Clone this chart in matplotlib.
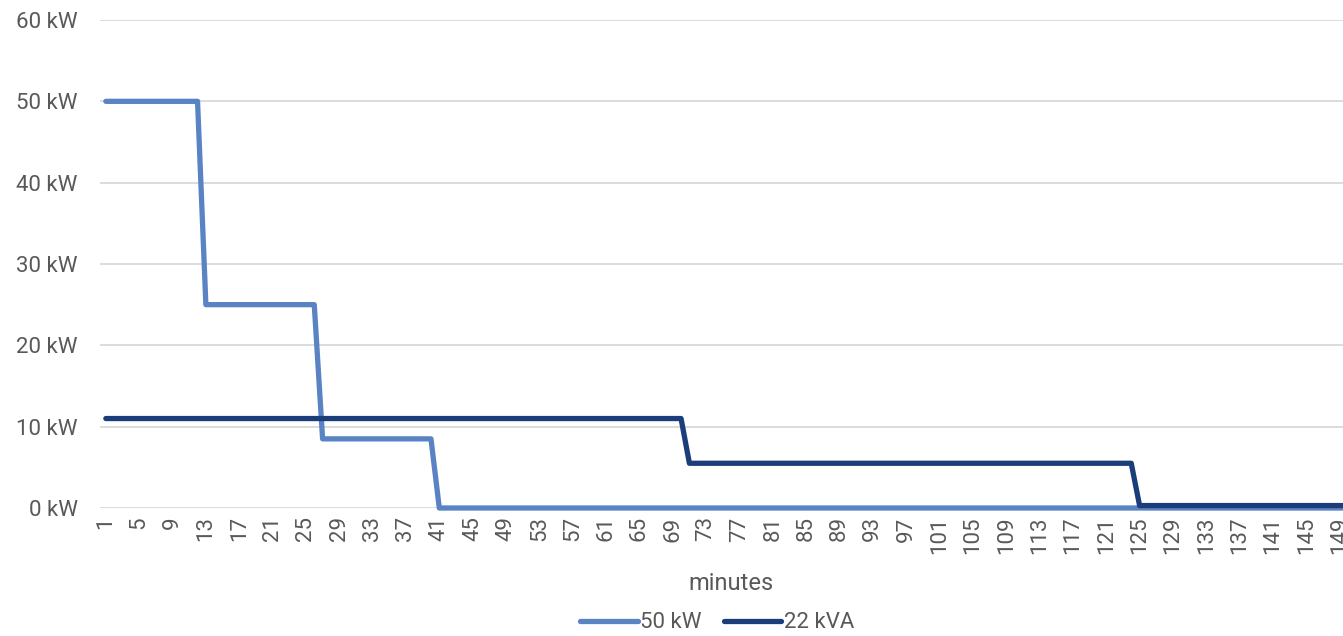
import matplotlib
matplotlib.use('Agg')
import matplotlib.pyplot as plt

# data (one value per minute)
minutes = list(range(1, 151))
power_50kw = [50] * 12 + [25] * 14 + [8.5] * 14 + [0] * 110
power_22kva = [11] * 70 + [5.5] * 54 + [0.3] * 26
tick_minutes = minutes[::4]
y_ticks = [0, 10, 20, 30, 40, 50, 60]

light_blue = '#5A83C4'
dark_blue = '#1B3D7A'
text_gray = '#595959'

plt.rcParams['font.family'] = ['Roboto', 'DejaVu Sans']

fig = plt.figure(figsize=(13.43, 6.36), dpi=100)
ax = fig.add_axes([100 / 1343, 1 - 508 / 636, 1 - 100 / 1343, (508 - 20) / 636])

ax.plot(minutes, power_50kw, color=light_blue, lw=3.8, solid_capstyle='round',
        solid_joinstyle='round', label='50 kW', clip_on=False, zorder=3)
ax.plot(minutes, power_22kva, color=dark_blue, lw=3.8, solid_capstyle='round',
        solid_joinstyle='round', label='22 kVA', clip_on=False, zorder=4)

ax.set_xlim(0.3, 149.4)
ax.set_ylim(0, 60)
ax.set_yticks(y_ticks)
ax.set_yticklabels([f'{v} kW' for v in y_ticks])
ax.set_xticks(tick_minutes)
ax.set_xticklabels([str(m) for m in tick_minutes], rotation=90)

ax.grid(axis='y', color='#D9D9D9', lw=1.3)
ax.set_axisbelow(True)
for s in ax.spines.values():
    s.set_visible(False)
ax.tick_params(axis='both', length=0, colors=text_gray, labelsize=16)
ax.tick_params(axis='y', pad=16)
ax.tick_params(axis='x', pad=6)

# axis title placed under the tick labels
fig.text(731 / 1343, 1 - 583 / 636, 'minutes', color=text_gray, fontsize=17,
         ha='center', va='center')
fig.legend(loc='center', bbox_to_anchor=(717 / 1343, 1 - 623 / 636), ncol=2, frameon=False,
           fontsize=16, labelcolor=text_gray, handlelength=2.6, handletextpad=0.1,
           columnspacing=1.0)

fig.savefig('out.png', dpi=100)
